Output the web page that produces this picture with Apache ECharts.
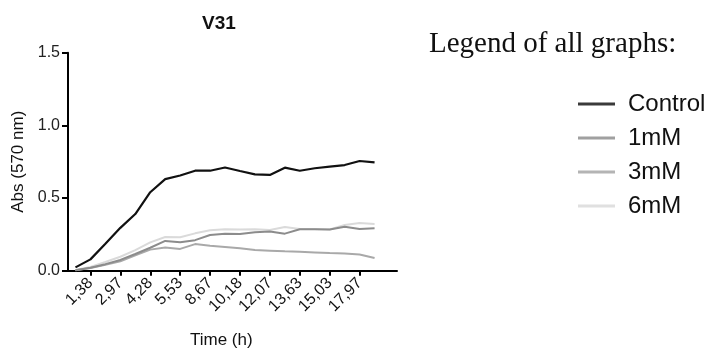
<!DOCTYPE html>
<html>
<head>
<meta charset="utf-8">
<script src="https://cdn.jsdelivr.net/npm/echarts@6/dist/echarts.min.js"></script>
<style>
html,body{margin:0;padding:0;background:#fff;}
#chart{width:706px;height:356px;}
</style>
</head>
<body>
<div id="chart"></div>
<script>
// Sample number along the time axis (one extra empty slot at the end of the axis)
const sampleIndex = [0,1,2,3,4,5,6,7,8,9,10,11,12,13,14,15,16,17,18,19,20,21];
// Tick labels shown on every other sample (samples 1,3,5,...,19)
const tickLabels = ['1,38','2,97','4,28','5,53','8,67','10,18','12,07','13,63','15,03','17,97'];
const seriesNames = ['Control','1mM','3mM','6mM'];
const control = [0.023,0.078,0.185,0.295,0.39,0.54,0.63,0.655,0.688,0.688,0.71,0.686,0.663,0.659,0.709,0.688,0.705,0.716,0.727,0.755,0.745];
const mM1 = [0.003,0.02,0.045,0.074,0.115,0.158,0.205,0.195,0.21,0.246,0.255,0.252,0.265,0.27,0.255,0.285,0.285,0.283,0.303,0.287,0.292];
const mM3 = [0.003,0.018,0.04,0.065,0.105,0.145,0.16,0.15,0.183,0.172,0.163,0.154,0.142,0.138,0.133,0.131,0.126,0.121,0.118,0.112,0.087];
const mM6 = [0.005,0.025,0.06,0.096,0.142,0.195,0.232,0.23,0.257,0.278,0.285,0.283,0.285,0.28,0.3,0.287,0.287,0.283,0.315,0.328,0.322];
const yTicks = [0, 0.5, 1.0, 1.5];

const colors = ['#111111','#8c8c8c','#a9a9a9','#dadada'];
const legendColors = ['#3a3a3a','#a0a0a0','#b4b4b4','#e0e0e0'];
const values = [control, mM1, mM3, mM6];
const sans = 'Liberation Sans, Arial, sans-serif';
const showTick = function (i) { return i % 2 === 1 && i < 20; };

const chart = echarts.init(document.getElementById('chart'), null, {renderer:'canvas'});
chart.setOption({
  animation: false,
  backgroundColor: '#ffffff',
  title: [
    {text: 'V31', left: 197, top: 9, textStyle: {fontFamily: sans, fontSize: 19, fontWeight: 'bold', color: '#111'}},
    {text: 'Time (h)', left: 185, top: 327, textStyle: {fontFamily: sans, fontSize: 17, fontWeight: 'normal', color: '#111'}},
    {text: 'Legend of all graphs:', left: 424, top: 25, textStyle: {fontFamily: 'Liberation Serif, Times New Roman, serif', fontSize: 29, fontWeight: 'normal', color: '#111'}}
  ],
  legend: {
    orient: 'vertical',
    left: 573,
    top: 87,
    itemWidth: 37,
    itemHeight: 3,
    itemGap: 10,
    icon: 'rect',
    data: seriesNames.map(function (n, k) {
      return {name: n, itemStyle: {color: legendColors[k]}};
    }),
    textStyle: {fontFamily: sans, fontSize: 24, color: '#111', lineHeight: 24, padding: [0,0,0,8]}
  },
  grid: {left: 68, right: 309, top: 52.7, bottom: 85.3, containLabel: false},
  xAxis: {
    type: 'category',
    data: sampleIndex,
    boundaryGap: true,
    axisLine: {show: true, lineStyle: {color: '#000', width: 2}},
    axisTick: {show: true, alignWithLabel: true, interval: showTick, length: 5, lineStyle: {color: '#000', width: 2}},
    axisLabel: {
      interval: showTick, rotate: 45, margin: 10, fontFamily: sans, fontSize: 16, color: '#111',
      formatter: function (v, i) { return tickLabels[(i - 1) / 2]; }
    },
    splitLine: {show: false}
  },
  yAxis: {
    type: 'value',
    min: yTicks[0],
    max: yTicks[yTicks.length - 1],
    interval: 0.5,
    name: 'Abs (570 nm)',
    nameLocation: 'middle',
    nameGap: 41,
    nameTextStyle: {fontFamily: sans, fontSize: 17, color: '#111'},
    axisLine: {show: true, lineStyle: {color: '#000', width: 2}},
    axisTick: {show: true, length: 6, lineStyle: {color: '#000', width: 2}},
    axisLabel: {fontFamily: sans, fontSize: 16, color: '#222', margin: 8, formatter: function (v) { return v.toFixed(1); }},
    splitLine: {show: false}
  },
  series: seriesNames.map(function (n, k) {
    return {
      name: n,
      type: 'line',
      data: values[k],
      symbol: 'none',
      z: 10 - k,
      itemStyle: {color: colors[k]},
      lineStyle: {color: colors[k], width: k === 0 ? 2.2 : 2}
    };
  })
});
</script>
</body>
</html>
